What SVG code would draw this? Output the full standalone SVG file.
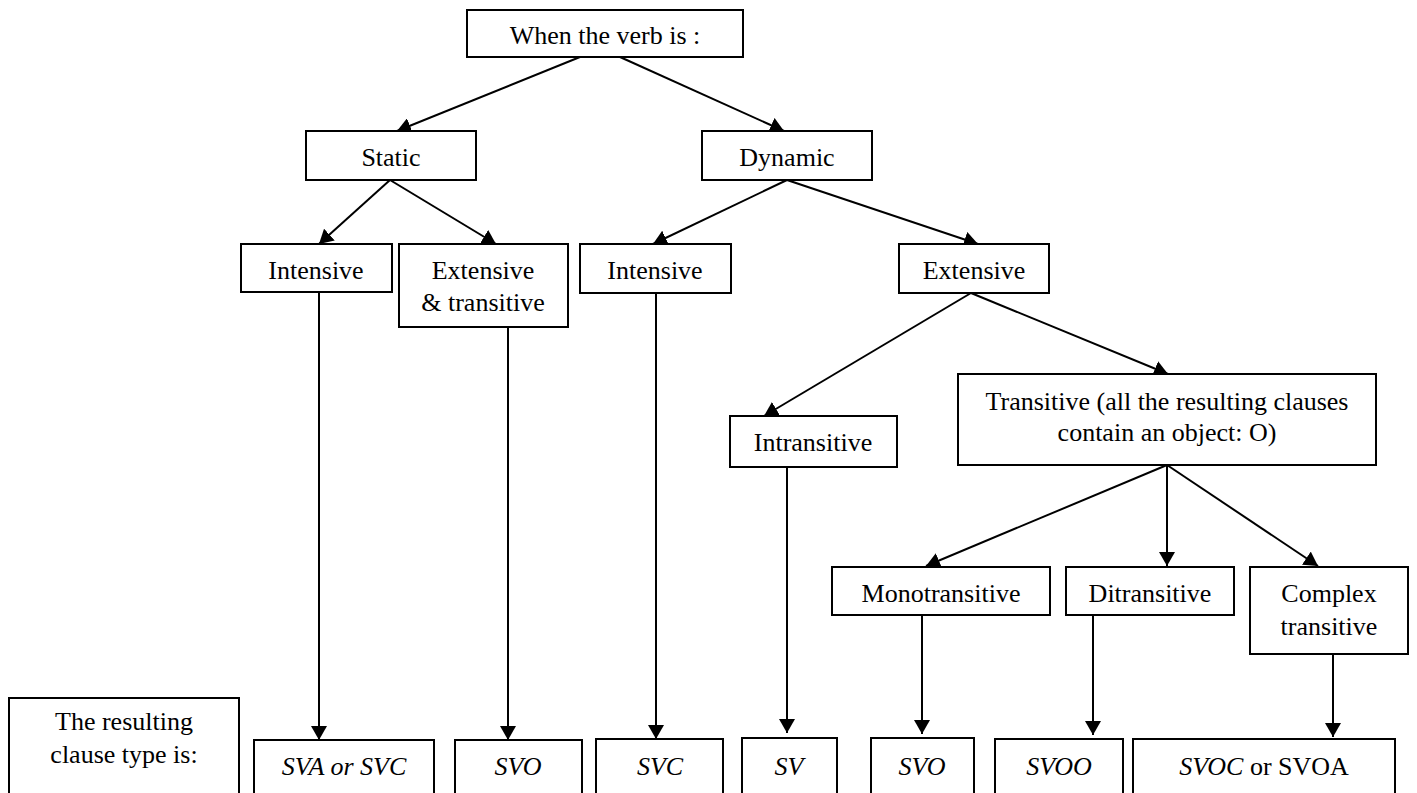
<svg xmlns="http://www.w3.org/2000/svg" width="1417" height="793" viewBox="0 0 1417 793">
  <defs>
    <marker id="arrow" markerUnits="userSpaceOnUse" markerWidth="16" markerHeight="16" refX="14" refY="8" orient="auto">
      <path d="M0,0 L14,8 L0,16 Z" fill="#000"/>
    </marker>
    <style>
      .box { fill: #fff; stroke: #000; stroke-width: 2; }
      .lbl { font-family: "Liberation Serif", "Times New Roman", serif; font-size: 26px; fill: #000; text-anchor: middle; }
      .it { font-style: italic; }
      .conn line { stroke: #000; stroke-width: 2; marker-end: url(#arrow); }
    </style>
  </defs>
  <rect width="1417" height="793" fill="#fff"/>

  <!-- connectors -->
  <g id="connectors" class="conn">
    <line x1="580" y1="57" x2="397" y2="131"/>
    <line x1="620" y1="57" x2="784" y2="131"/>
    <line x1="390" y1="180" x2="319" y2="244"/>
    <line x1="390" y1="180" x2="496" y2="244"/>
    <line x1="787" y1="180" x2="653" y2="244"/>
    <line x1="787" y1="180" x2="978" y2="244"/>
    <line x1="971" y1="293" x2="764" y2="416"/>
    <line x1="971" y1="293" x2="1168" y2="374"/>
    <line x1="1167" y1="465" x2="926" y2="566"/>
    <line x1="1167" y1="465" x2="1167" y2="566"/>
    <line x1="1167" y1="465" x2="1318" y2="566"/>
    <line x1="319" y1="292" x2="319" y2="740"/>
    <line x1="508" y1="327" x2="508" y2="740"/>
    <line x1="656" y1="293" x2="656" y2="739"/>
    <line x1="787" y1="467" x2="787" y2="733"/>
    <line x1="922" y1="615" x2="922" y2="734"/>
    <line x1="1093" y1="615" x2="1093" y2="735"/>
    <line x1="1333" y1="654" x2="1333" y2="737"/>
  </g>

  <!-- decision tree nodes -->
  <g id="verb">
    <rect class="box" x="467" y="10" width="276" height="47"/>
    <text class="lbl" x="605" y="44">When the verb is :</text>
  </g>
  <g id="static">
    <rect class="box" x="306" y="131" width="170" height="49"/>
    <text class="lbl" x="391" y="166">Static</text>
  </g>
  <g id="dynamic">
    <rect class="box" x="702" y="131" width="170" height="49"/>
    <text class="lbl" x="787" y="166">Dynamic</text>
  </g>
  <g id="static-intensive">
    <rect class="box" x="241" y="244" width="151" height="48"/>
    <text class="lbl" x="316" y="279">Intensive</text>
  </g>
  <g id="static-extensive">
    <rect class="box" x="399" y="244" width="169" height="83"/>
    <text class="lbl" x="483" y="279">Extensive</text>
    <text class="lbl" x="483" y="311">&amp; transitive</text>
  </g>
  <g id="dynamic-intensive">
    <rect class="box" x="580" y="244" width="151" height="49"/>
    <text class="lbl" x="655" y="279">Intensive</text>
  </g>
  <g id="dynamic-extensive">
    <rect class="box" x="899" y="244" width="150" height="49"/>
    <text class="lbl" x="974" y="279">Extensive</text>
  </g>
  <g id="intransitive">
    <rect class="box" x="730" y="416" width="167" height="51"/>
    <text class="lbl" x="813" y="451">Intransitive</text>
  </g>
  <g id="transitive">
    <rect class="box" x="958" y="374" width="418" height="91"/>
    <text class="lbl" x="1167" y="410">Transitive (all the resulting clauses</text>
    <text class="lbl" x="1167" y="441">contain an object: O)</text>
  </g>
  <g id="monotransitive">
    <rect class="box" x="832" y="567" width="218" height="48"/>
    <text class="lbl" x="941" y="602">Monotransitive</text>
  </g>
  <g id="ditransitive">
    <rect class="box" x="1066" y="567" width="168" height="48"/>
    <text class="lbl" x="1150" y="602">Ditransitive</text>
  </g>
  <g id="complex-transitive">
    <rect class="box" x="1250" y="567" width="158" height="87"/>
    <text class="lbl" x="1329" y="602">Complex</text>
    <text class="lbl" x="1329" y="635">transitive</text>
  </g>

  <!-- resulting clause types -->
  <g id="result-label">
    <rect class="box" x="9" y="698" width="230" height="110"/>
    <text class="lbl" x="124" y="730">The resulting</text>
    <text class="lbl" x="124" y="763">clause type is:</text>
  </g>
  <g id="result-sva-svc">
    <rect class="box" x="254" y="740" width="180" height="70"/>
    <text class="lbl it" x="344" y="775">SVA or SVC</text>
  </g>
  <g id="result-svo-static">
    <rect class="box" x="455" y="740" width="127" height="70"/>
    <text class="lbl it" x="518" y="775">SVO</text>
  </g>
  <g id="result-svc">
    <rect class="box" x="596" y="739" width="127" height="70"/>
    <text class="lbl it" x="660" y="775">SVC</text>
  </g>
  <g id="result-sv">
    <rect class="box" x="742" y="738" width="95" height="70"/>
    <text class="lbl it" x="789" y="775">SV</text>
  </g>
  <g id="result-svo">
    <rect class="box" x="871" y="738" width="103" height="70"/>
    <text class="lbl it" x="922" y="775">SVO</text>
  </g>
  <g id="result-svoo">
    <rect class="box" x="995" y="739" width="128" height="70"/>
    <text class="lbl it" x="1059" y="775">SVOO</text>
  </g>
  <g id="result-svoc-svoa">
    <rect class="box" x="1133" y="739" width="262" height="70"/>
    <text class="lbl" x="1264" y="775"><tspan class="it">SVOC</tspan> or SVOA</text>
  </g>
</svg>
